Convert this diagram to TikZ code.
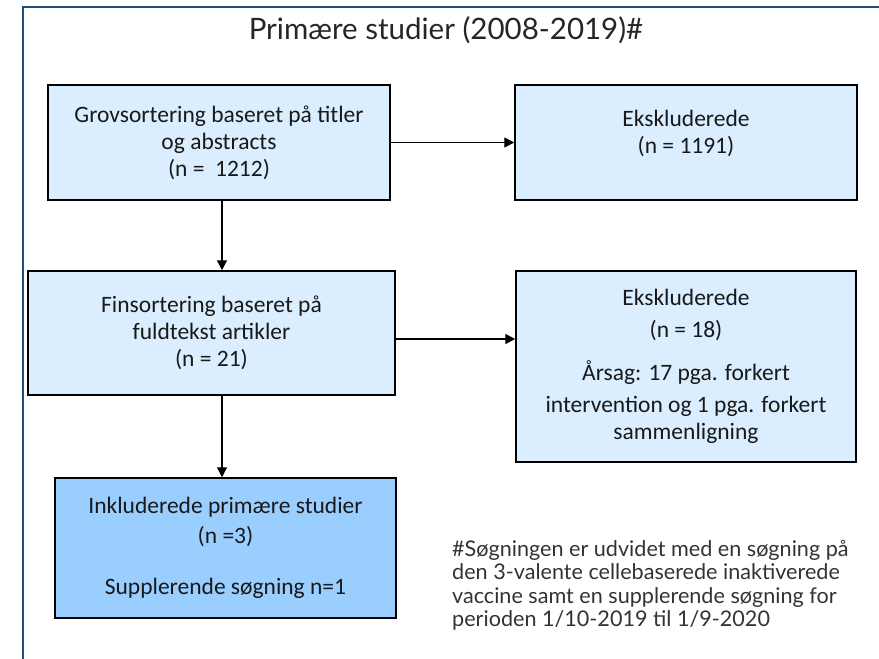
\documentclass[tikz,border=0pt]{standalone}
\usepackage{fontspec}
\newfontfamily\cbfont{Carlito}
\newfontfamily\rwfont{Lato}
\definecolor{framblue}{RGB}{31, 78, 121}
\definecolor{boxlight}{RGB}{218, 238, 255}
\definecolor{boxdark}{RGB}{153, 206, 255}
\definecolor{notegray}{RGB}{51, 51, 51}
\usetikzlibrary{positioning, arrows.meta}

\begin{document}
\begin{tikzpicture}[x=1bp, y=-1bp,
    stage/.style={draw, line width=1.5bp, fill=boxlight, align=center, inner sep=0pt,
      font=\cbfont\fontsize{23.5bp}{27bp}\selectfont, text=black!90},
    flow/.style={-{Triangle[length=10bp, width=10bp]}, line width=1.4bp}]
  \useasboundingbox (0,0) rectangle (879,659);
  % Frame (top and left edge only)
  \draw[line width=2bp, color=framblue] (879,7) -- (23,7) -- (23,659);
  % Title
  \node[font=\rwfont\fontsize{29.5bp}{33bp}\selectfont, text=black!85] (title) at (446,30) {Primære studier (2008-2019)\#};
  % Screening boxes (left column)
  \node[stage, minimum width=342bp, minimum height=115bp] (grov) at (219,142.5)
    {Grovsortering baseret på titler\\og abstracts\\(n = \ 1212)};
  \node[stage, minimum width=367bp, minimum height=124bp] (fin) at (211.5,333)
    {Finsortering baseret på\\fuldtekst artikler\\(n = 21)};
  \node[stage, fill=boxdark, minimum width=341bp, minimum height=140bp] (inkl) at (225.5,548)
    {Inkluderede primære studier\\[3bp](n =3)\\[24bp]Supplerende søgning n=1};
  % Excluded boxes (right column)
  \node[stage, minimum width=342bp, minimum height=115bp] (eks1) at (686,142.5)
    {Ekskluderede\\(n = 1191)\\[-6bp]\rule{0pt}{10bp}};
  \node[stage, minimum width=340bp, minimum height=191bp] (eks2) at (686,366.5)
    {Ekskluderede\\[5bp](n = 18)\\[16bp]Årsag: 17 pga. forkert\\[5bp]intervention og 1 pga. forkert\\sammenligning};
  % Arrows
  \draw[flow] (grov.east) -- (eks1.west);
  \draw[flow] ([yshift=-6bp]fin.east) -- ([yshift=-6bp]fin.east -| eks2.west);
  \draw[flow] ([xshift=3bp]grov.south) -- ([xshift=3bp]grov.south |- fin.north);
  \draw[flow] ([xshift=3bp]grov.south |- fin.south) -- ([xshift=3bp]grov.south |- inkl.north);
  % Footnote
  \node[anchor=north west, align=left, inner sep=0pt, text=notegray,
    font=\rwfont\fontsize{21.6bp}{23.5bp}\selectfont] (note) at (452,540)
    {\#Søgningen er udvidet med en søgning på\\den 3-valente cellebaserede inaktiverede\\vaccine samt en supplerende søgning for\\perioden 1/10-2019 til 1/9-2020};
\end{tikzpicture}
\end{document}
